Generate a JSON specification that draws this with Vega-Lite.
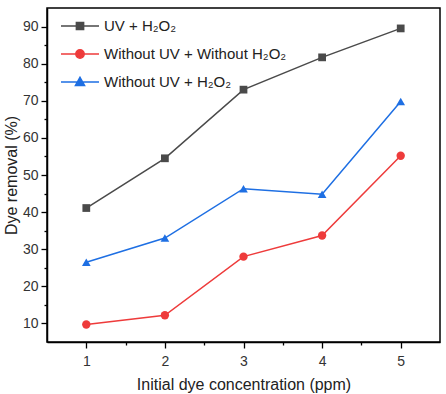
{
  "$schema": "https://vega.github.io/schema/vega-lite/v6.json",
  "width": 393,
  "height": 334,
  "autosize": "none",
  "padding": {"left": 47, "top": 8, "right": 6, "bottom": 52},
  "background": "white",
  "config": {
    "view": {"stroke": "black", "strokeWidth": 1.5},
    "font": "Liberation Sans"
  },
  "data": {
    "values": [
      {"c": 1, "r": 41.1, "s": "UV + H₂O₂"},
      {"c": 2, "r": 54.5, "s": "UV + H₂O₂"},
      {"c": 3, "r": 73.0, "s": "UV + H₂O₂"},
      {"c": 4, "r": 81.7, "s": "UV + H₂O₂"},
      {"c": 5, "r": 89.5, "s": "UV + H₂O₂"},
      {"c": 1, "r": 9.7, "s": "Without UV + Without H₂O₂"},
      {"c": 2, "r": 12.2, "s": "Without UV + Without H₂O₂"},
      {"c": 3, "r": 28.0, "s": "Without UV + Without H₂O₂"},
      {"c": 4, "r": 33.7, "s": "Without UV + Without H₂O₂"},
      {"c": 5, "r": 55.2, "s": "Without UV + Without H₂O₂"},
      {"c": 1, "r": 26.5, "s": "Without UV + H₂O₂"},
      {"c": 2, "r": 33.0, "s": "Without UV + H₂O₂"},
      {"c": 3, "r": 46.3, "s": "Without UV + H₂O₂"},
      {"c": 4, "r": 44.8, "s": "Without UV + H₂O₂"},
      {"c": 5, "r": 69.8, "s": "Without UV + H₂O₂"}
    ]
  },
  "encoding": {
    "x": {
      "field": "c", "type": "quantitative",
      "scale": {"domain": [0.5, 5.5], "nice": false, "zero": false},
      "axis": {
        "title": "Initial dye concentration (ppm)",
        "values": [1, 1.5, 2, 2.5, 3, 3.5, 4, 4.5, 5],
        "labelExpr": "datum.value % 1 === 0 ? datum.value : ''",
        "grid": false,
        "domainColor": "black", "domainWidth": 1.5,
        "tickColor": "black", "tickWidth": 1.3,
        "tickSize": {"condition": {"test": "datum.value % 1 === 0", "value": 6}, "value": 3},
        "labelFontSize": 14, "labelColor": "#333", "labelPadding": 6,
        "titleFontSize": 16, "titleFontWeight": "normal", "titleColor": "#222", "titlePadding": 8
      }
    },
    "y": {
      "field": "r", "type": "quantitative",
      "scale": {"domain": [5, 95], "nice": false, "zero": false},
      "axis": {
        "title": "Dye removal (%)",
        "values": [10, 15, 20, 25, 30, 35, 40, 45, 50, 55, 60, 65, 70, 75, 80, 85, 90],
        "labelExpr": "datum.value % 10 === 0 ? datum.value : ''",
        "grid": false,
        "domainColor": "black", "domainWidth": 1.5,
        "tickColor": "black", "tickWidth": 1.3,
        "tickSize": {"condition": {"test": "datum.value % 10 === 0", "value": 6}, "value": 3},
        "labelFontSize": 14, "labelColor": "#333", "labelPadding": 3,
        "titleFontSize": 16, "titleFontWeight": "normal", "titleColor": "#222", "titlePadding": 3
      }
    },
    "color": {
      "field": "s", "type": "nominal",
      "sort": ["UV + H₂O₂", "Without UV + Without H₂O₂", "Without UV + H₂O₂"],
      "scale": {"domain": ["UV + H₂O₂", "Without UV + Without H₂O₂", "Without UV + H₂O₂"], "range": ["#4a4a4a", "#ee3b3b", "#1e6fe3"]},
      "legend": {
        "title": null,
        "orient": "none",
        "legendX": 9,
        "legendY": -6,
        "labelFontSize": 15,
        "labelColor": "#222",
        "labelLimit": 400,
        "symbolSize": 1444,
        "symbolStrokeWidth": 1.5,
        "rowPadding": -12,
        "labelOffset": 4,
        "padding": 4,
        "encode": {
          "symbols": {
            "update": {
              "shape": {"signal": "datum.value === 'UV + H₂O₂' ? 'M-1,0H1M-0.19,-0.19H0.19V0.19H-0.19Z' : datum.value === 'Without UV + H₂O₂' ? 'M-1,0H1M0,-0.25L0.24,0.18H-0.24Z' : 'M-1,0H1M-0.22,0A0.22,0.22,0,1,0,0.22,0A0.22,0.22,0,1,0,-0.22,0Z'"},
              "fill": {"scale": "color", "field": "value"},
              "fillOpacity": {"value": 1}
            }
          }
        }
      }
    }
  },
  "layer": [
    {"mark": {"type": "line", "strokeWidth": 1.5}},
    {
      "transform": [{"filter": "datum.s === 'UV + H₂O₂'"}],
      "mark": {"type": "point", "filled": true, "opacity": 1, "size": 60, "shape": "square"}
    },
    {
      "transform": [{"filter": "datum.s === 'Without UV + Without H₂O₂'"}],
      "mark": {"type": "point", "filled": true, "opacity": 1, "size": 70, "shape": "circle"}
    },
    {
      "transform": [{"filter": "datum.s === 'Without UV + H₂O₂'"}],
      "mark": {"type": "point", "filled": true, "opacity": 1, "size": 75, "shape": "triangle-up"}
    }
  ]
}
